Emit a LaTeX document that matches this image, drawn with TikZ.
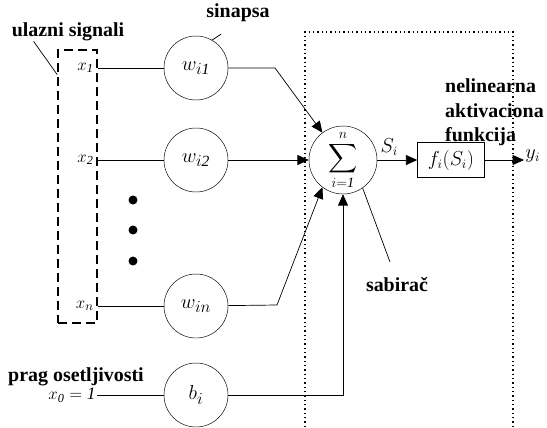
\documentclass[tikz,border=0pt]{standalone}
\usepackage{fontspec}
\setmainfont{Liberation Serif}[BoldFont={Liberation Serif Bold}]
\usepackage{amsmath}
\usetikzlibrary{positioning,arrows.meta,calc}
\newcommand{\lbltxt}{\fontsize{17}{21.3}\selectfont\bfseries}
\newcommand{\mathtxt}{\fontsize{16}{18}\selectfont}

\begin{document}
\begin{tikzpicture}[x=0.3mm, y=-0.3mm,
                   syn/.style={draw, circle, minimum size=19.2mm, inner sep=0pt,
                               font=\fontsize{19}{21}\selectfont},
                   sumnode/.style={draw, circle, minimum size=20.4mm, inner sep=0pt,
                                   font=\fontsize{17.5}{19}\selectfont},
                   fbox/.style={draw, minimum width=20.1mm, minimum height=10.5mm,
                                inner sep=0pt, font=\mathtxt},
                   note/.style={font=\lbltxt, inner sep=0pt, align=left},
                   inlbl/.style={anchor=east, inner sep=1pt, font=\fontsize{15}{17}\selectfont},
                   wire/.style={line width=0.6pt},
                   arr/.style={wire, -{Triangle[length=3.4mm, width=3mm]}}]
    \useasboundingbox (0,0) rectangle (547,427);
    \node[draw, dash pattern=on 2.6mm off 1.6mm, line width=1.3pt,
          minimum width=11.7mm, minimum height=81.9mm] (inbox) at (77.5,186.5) {};
    \draw[line width=1.4pt, dash pattern=on 0.4mm off 0.9mm] (305,427) -- (305,32) -- (513,32) -- (513,427);
    \node[syn]     (w1)  at (196,68)  {$w_{i\mathit{1}}$};
    \node[syn]     (w2)  at (196,160) {$w_{i\mathit{2}}$};
    \node[syn]     (wn)  at (196,306) {$w_{in}$};
    \node[syn]     (b)   at (196,395) {$b_i$};
    \node[sumnode] (sum) at (343,160) {$\displaystyle\sum_{i=\mathit{1}}^{n}$};
    \node[fbox]    (f)   at (451,160) {$f_i(S_i)$};
    \node[inlbl] (x1) at (95,68)  {$x_{\mathit{1}}$};
    \node[inlbl] (x2) at (95,160) {$x_{\mathit{2}}$};
    \node[inlbl] (xn) at (95,306) {$x_n$};
    \node[inlbl] (x0) at (97,395) {$x_{\mathit{0}} = \mathit{1}$};
    \node[anchor=west, inner sep=1pt, font=\mathtxt] (y) at (524,156) {$y_i$};
    \node[note] (lin) at (68,32)   {ulazni signali};
    \node[note] (sin) at (238,13)  {sinapsa};
    \node[note, anchor=north west] (nel) at (445,78) {nelinearna\\aktivaciona\\funkcija};
    \node[note] (sab) at (397,285) {sabira\v{c}};
    \node[note, anchor=west] (prag) at (8,377) {prag osetljivosti};
    \coordinate (k1) at (275,68);
    \coordinate (kn) at (277,305);
    \coordinate (sabtip) at (390,262);
    \foreach \yy in {200,230,261} \fill (133,\yy) circle[radius=1.35mm];
    \draw[wire] (inbox.east |- x1) -- (w1);
    \draw[wire] (inbox.east |- x2) -- (w2);
    \draw[wire] (inbox.east |- xn) -- (wn);
    \draw[wire] (x0) -- (b);
    \draw[arr] (w1) -- (k1) -- (sum.127);
    \draw[arr] (w2) -- (sum);
    \draw[arr] (wn) -- (kn) -- (sum.233);
    \draw[arr] (b) -| (sum);
    \draw[arr] (sum) -- node[above, pos=0.3, font=\mathtxt] {$S_i$} (f);
    \draw[arr] (f) -- (y.west |- f);
    \draw[wire] ([xshift=6.6mm]lin.south west) -- ([yshift=-2mm]inbox.west |- x1);
    \draw[wire] (w1.60) -- ++(9,-6);
    \draw[wire] (sum.-55) -- (sabtip);
\end{tikzpicture}
\end{document}
